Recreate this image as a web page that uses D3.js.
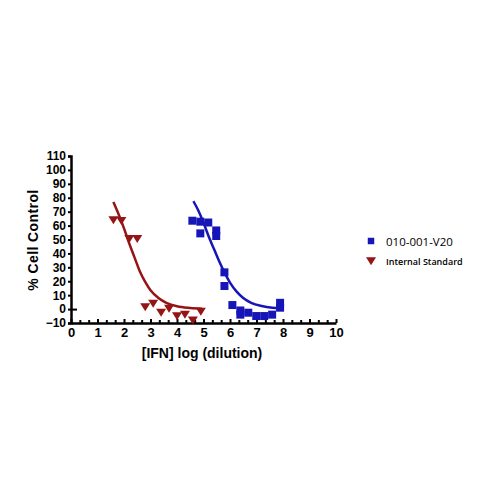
<!DOCTYPE html>
<html>
<head>
<meta charset="utf-8">
<script src="https://cdn.jsdelivr.net/npm/d3@7"></script>
<style>
  body { margin: 0; background: #fff; }
  svg { display: block; }
</style>
</head>
<body>
<svg width="500" height="500"></svg>
<script>
// points: [log dilution, % cell control]
const samplePoints = [
  [4.58, 63.5], [4.88, 62.8], [4.88, 54.4], [5.18, 62.2], [5.48, 56.5], [5.48, 52.5],
  [5.79, 26.4], [5.79, 16.6], [6.09, 2.9], [6.39, -1], [6.39, -4], [6.69, -2.6],
  [6.99, -5], [7.29, -5], [7.59, -4], [7.89, 4.5], [7.89, 1]
]
const standardPoints = [
  [1.6, 64], [1.9, 63.5], [2.2, 50.5], [2.5, 50.5], [2.8, 1.5], [3.1, 4],
  [3.4, -2.5], [3.7, 0.3], [4.0, -5], [4.3, -4], [4.6, -8], [4.9, -1.8]
]
// fitted curves as traced in the picture
const sampleCurve = [
  [4.62, 77.5], [4.8, 71], [5.0, 62], [5.2, 52], [5.4, 43], [5.6, 34], [5.8, 26],
  [6.0, 19], [6.25, 12.5], [6.5, 8], [6.8, 4.5], [7.2, 2.2], [7.6, 1], [7.89, 0.6]
]
const standardCurve = [
  [1.6, 77], [1.8, 68], [2.0, 58], [2.2, 47], [2.4, 37], [2.6, 27], [2.8, 19.5],
  [3.0, 13.5], [3.3, 8], [3.6, 4.5], [4.0, 2], [4.5, 0.8], [4.95, 0.3]
]
const seriesNames = ['010-001-V20', 'Internal Standard']
const xTicks = [0, 1, 2, 3, 4, 5, 6, 7, 8, 9, 10]
const yTicks = [-10, 0, 10, 20, 30, 40, 50, 60, 70, 80, 90, 100, 110]

const blue = '#1616b8'
const red = '#951515'

const svg = d3.select('svg')

const xScale = d3.scaleLinear().domain([0, 10]).range([71, 336])
const yScale = d3.scaleLinear().domain([-10, 110]).range([323, 156])

const axisFont = 'Liberation Sans, Arial, sans-serif'

// y axis
const yAxis = svg.append('g')
  .attr('transform', `translate(${xScale(0)},0)`)
  .call(d3.axisLeft(yScale).tickValues(yTicks).tickSize(3).tickPadding(2))
yAxis.select('.domain').attr('stroke-width', 2.5)
yAxis.selectAll('.tick line').attr('stroke-width', 2)
yAxis.selectAll('text')
  .style('font-family', axisFont)
  .style('font-weight', 'bold')
  .style('font-size', '12px')
  .attr('fill', '#000')

// small inner tick at zero
svg.append('g')
  .attr('transform', `translate(${xScale(0)},0)`)
  .call(d3.axisRight(yScale).tickValues([0]).tickSize(6).tickFormat(''))
  .call(g => g.select('.domain').remove())
  .selectAll('line').attr('stroke-width', 2)

// x axis, ticks pointing up
const minorTicks = d3.range(0, 31).map(i => i / 3).filter(v => Math.abs(v - Math.round(v)) > 0.01)
svg.append('g')
  .attr('transform', `translate(0,${yScale(-10)})`)
  .call(d3.axisBottom(xScale).tickValues(minorTicks).tickSize(-3).tickFormat(''))
  .call(g => g.select('.domain').remove())
  .selectAll('line').attr('stroke-width', 2)

const xAxis = svg.append('g')
  .attr('transform', `translate(0,${yScale(-10)})`)
  .call(d3.axisBottom(xScale).tickValues(xTicks).tickSize(-4).tickPadding(5).tickSizeOuter(0))
xAxis.select('.domain').attr('stroke-width', 2.5)
xAxis.selectAll('.tick line').attr('stroke-width', 2)
xAxis.selectAll('text')
  .style('font-family', axisFont)
  .style('font-weight', 'bold')
  .style('font-size', '13px')
  .attr('fill', '#000')

// axis titles
svg.append('text')
  .attr('x', 202)
  .attr('y', 358)
  .attr('text-anchor', 'middle')
  .style('font-family', axisFont)
  .style('font-weight', 'bold')
  .style('font-size', '14px')
  .text('[IFN] log (dilution)')

svg.append('text')
  .attr('transform', 'translate(38,240) rotate(-90)')
  .attr('text-anchor', 'middle')
  .style('font-family', axisFont)
  .style('font-weight', 'bold')
  .style('font-size', '14px')
  .attr('letter-spacing', '0.4px')
  .text('% Cell Control')

// curves
const line = d3.line()
  .x(d => xScale(d[0]))
  .y(d => yScale(d[1]))
  .curve(d3.curveMonotoneX)

svg.append('path')
  .datum(standardCurve)
  .attr('d', line)
  .attr('fill', 'none')
  .attr('stroke', red)
  .attr('stroke-width', 2.5)

svg.append('path')
  .datum(sampleCurve)
  .attr('d', line)
  .attr('fill', 'none')
  .attr('stroke', blue)
  .attr('stroke-width', 2.5)

// markers
const square = d3.symbol().type(d3.symbolSquare).size(64)
const triDown = 'M-5,-3.8L5,-3.8L0,4.2Z'

svg.append('g').selectAll('path')
  .data(samplePoints)
  .join('path')
  .attr('d', square)
  .attr('transform', d => `translate(${xScale(d[0])},${yScale(d[1])})`)
  .attr('fill', blue)

svg.append('g').selectAll('path')
  .data(standardPoints)
  .join('path')
  .attr('d', triDown)
  .attr('transform', d => `translate(${xScale(d[0])},${yScale(d[1])})`)
  .attr('fill', red)

// legend
const legend = svg.append('g')
legend.append('path')
  .attr('d', d3.symbol().type(d3.symbolSquare).size(42))
  .attr('transform', 'translate(371,241)')
  .attr('fill', blue)
legend.append('text')
  .attr('x', 386)
  .attr('y', 241)
  .attr('dominant-baseline', 'central')
  .style('font-family', 'Open Sans, sans-serif')
  .style('font-size', '11.5px')
  .style('font-weight', '500')
  .text(seriesNames[0])

legend.append('path')
  .attr('d', triDown)
  .attr('transform', 'translate(371,261)')
  .attr('fill', red)
legend.append('text')
  .attr('x', 386)
  .attr('y', 261.5)
  .attr('dominant-baseline', 'central')
  .style('font-family', 'Open Sans, sans-serif')
  .style('font-weight', '600')
  .style('font-size', '9px')
  .text(seriesNames[1])
</script>
</body>
</html>
